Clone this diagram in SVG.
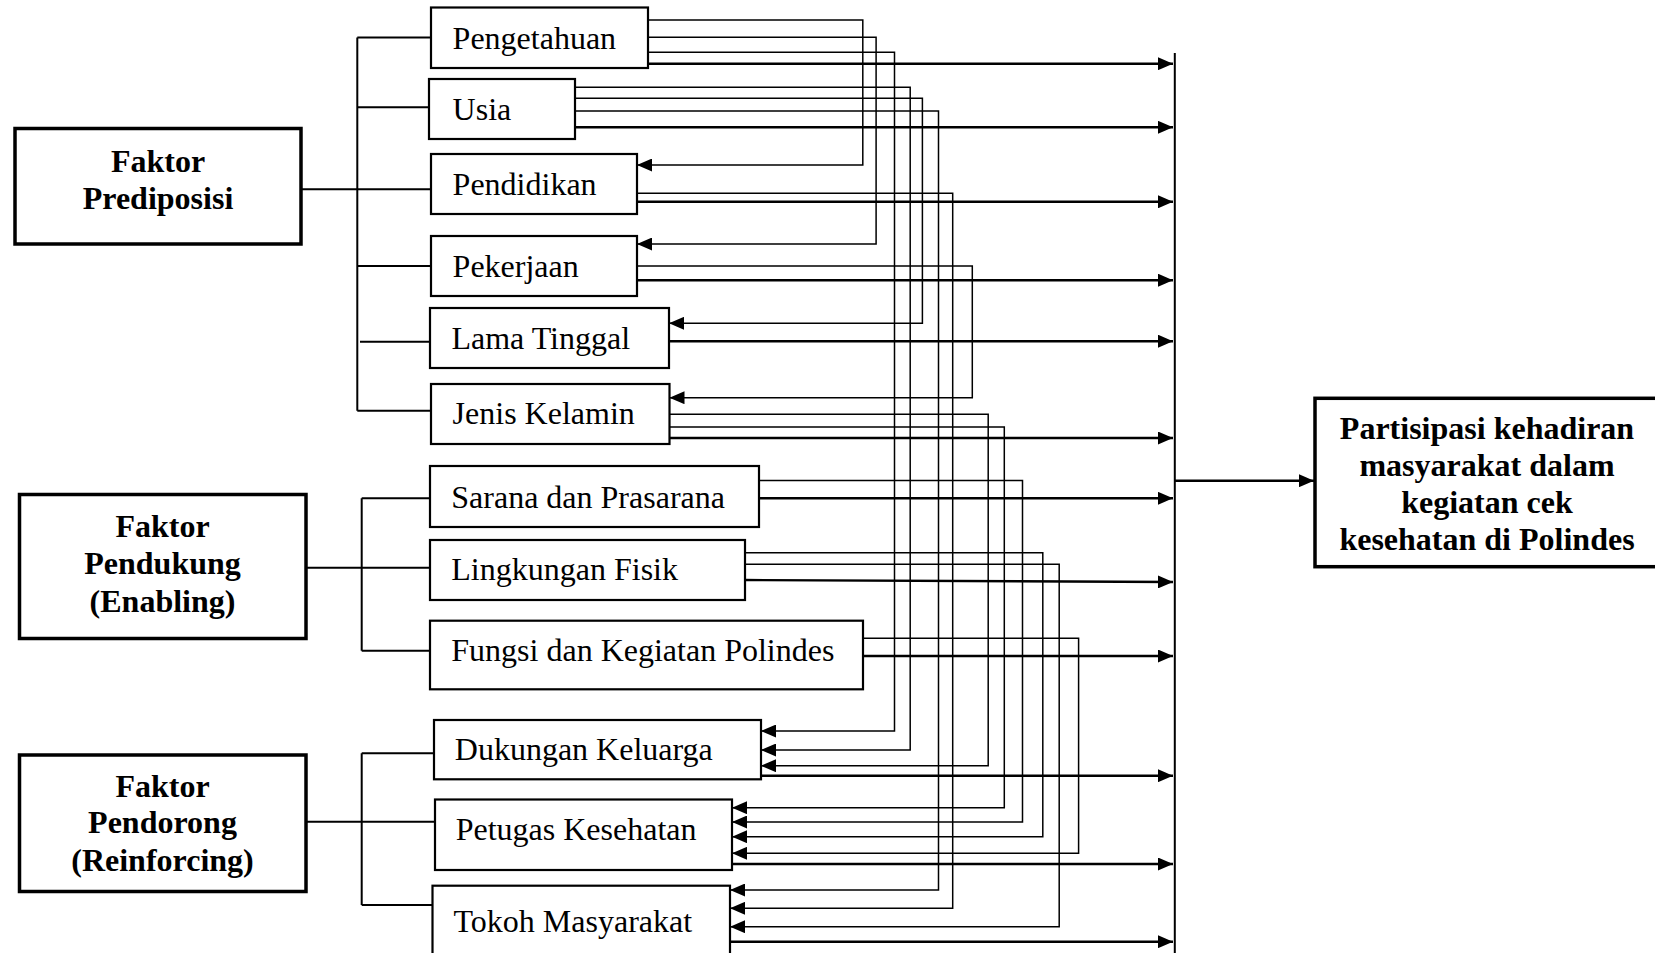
<svg xmlns="http://www.w3.org/2000/svg" width="1655" height="953" viewBox="0 0 1655 953">
<defs>
<marker id="ah" viewBox="0 0 15 13" refX="15" refY="6.5" markerWidth="15" markerHeight="13" markerUnits="userSpaceOnUse" orient="auto">
<path d="M0,0 L15,6.5 L0,13 Z" fill="#000"/>
</marker>
<style>
.box{fill:#fff;stroke:#000;stroke-width:2.2}
.fbox{fill:#fff;stroke:#000;stroke-width:3.5}
.t{font-family:"Liberation Serif","Times New Roman",serif;font-size:32px;fill:#000}
.b{font-family:"Liberation Serif","Times New Roman",serif;font-size:32px;font-weight:bold;fill:#000;text-anchor:middle}
.br{fill:none;stroke:#000;stroke-width:2}
.r{fill:none;stroke:#000;stroke-width:1.5;marker-end:url(#ah)}
.s{fill:none;stroke:#000;stroke-width:2.4;marker-end:url(#ah)}
</style>
</defs>
<rect width="1655" height="953" fill="#fff"/>

<g id="connectors">
<!-- brackets -->
<path class="br" d="M357.3,37.5 V410.7 M357.3,37.5 H431 M357.3,107.3 H429 M301,189.3 H431 M357.3,266 H431 M360,341.7 H430 M357.3,410.7 H431"/>
<path class="br" d="M361.7,498.3 V650.7 M361.7,498.3 H430 M306,567.7 H430 M361.7,650.7 H430"/>
<path class="br" d="M361.7,753.3 V905 M361.7,753.3 H434 M306,821.7 H435 M361.7,905 H432.5"/>
<!-- routed interconnections -->
<path class="r" d="M648,20 H862.8 V165 H637"/>
<path class="r" d="M648,37.3 H876.1 V244 H637"/>
<path class="r" d="M648,52.3 H894.5 V731 H761"/>
<path class="r" d="M575,87.3 H910.2 V750 H761"/>
<path class="r" d="M575,98.3 H922.4 V323.3 H669"/>
<path class="r" d="M575,111 H938.5 V890 H730"/>
<path class="r" d="M637,193.3 H952.7 V908.3 H730"/>
<path class="r" d="M637,266 H972.3 V397.7 H669.5"/>
<path class="r" d="M669.5,414.3 H988.2 V765.7 H761"/>
<path class="r" d="M669.5,427 H1004.3 V807.7 H732"/>
<path class="r" d="M759,480.5 H1022.5 V822 H732"/>
<path class="r" d="M745,552.7 H1042.8 V836.7 H732"/>
<path class="r" d="M745,564.3 H1059.2 V926.7 H730"/>
<path class="r" d="M863,638.3 H1078.6 V853.3 H732"/>
<!-- straight lines to the bar -->
<path class="s" d="M648,63.7 H1173"/>
<path class="s" d="M575,127.3 H1173"/>
<path class="s" d="M637,201.8 H1173"/>
<path class="s" d="M637,280.2 H1173"/>
<path class="s" d="M669,341.2 H1173"/>
<path class="s" d="M669.5,438 H1173"/>
<path class="s" d="M759,498.3 H1173"/>
<path class="s" d="M745,580 L1173,582"/>
<path class="s" d="M863,656 H1173"/>
<path class="s" d="M761,775.7 H1173"/>
<path class="s" d="M732,864 H1173"/>
<path class="s" d="M730,941.7 H1173"/>
<!-- collector bar and output -->
<path class="br" d="M1174.8,53 V953"/>
<path class="s" d="M1174.8,480.7 H1314"/>
</g>

<g id="faktor-prediposisi">
<rect class="fbox" x="15" y="128.5" width="286" height="115.5"/>
<text class="b" x="158" y="172">Faktor</text>
<text class="b" x="158" y="209">Prediposisi</text>
</g>
<g id="faktor-pendukung">
<rect class="fbox" x="19.5" y="494.5" width="286.5" height="144"/>
<text class="b" x="162.5" y="537.3">Faktor</text>
<text class="b" x="162.5" y="574.3">Pendukung</text>
<text class="b" x="162.5" y="611.5">(Enabling)</text>
</g>
<g id="faktor-pendorong">
<rect class="fbox" x="19.5" y="755" width="286.5" height="136.5"/>
<text class="b" x="162.5" y="796.7">Faktor</text>
<text class="b" x="162.5" y="833.3">Pendorong</text>
<text class="b" x="162.5" y="870.5">(Reinforcing)</text>
</g>

<g id="pengetahuan">
<rect class="box" x="431" y="7.5" width="217" height="60.5"/>
<text class="t" x="452.6" y="48.5">Pengetahuan</text>
</g>
<g id="usia">
<rect class="box" x="429" y="79" width="146" height="60"/>
<text class="t" x="452.6" y="119.5">Usia</text>
</g>
<g id="pendidikan">
<rect class="box" x="431" y="154" width="206" height="60"/>
<text class="t" x="452.6" y="194.5">Pendidikan</text>
</g>
<g id="pekerjaan">
<rect class="box" x="431" y="236" width="206" height="60"/>
<text class="t" x="452.6" y="276.7">Pekerjaan</text>
</g>
<g id="lama-tinggal">
<rect class="box" x="430" y="308" width="239" height="60"/>
<text class="t" x="451.4" y="348.5">Lama Tinggal</text>
</g>
<g id="jenis-kelamin">
<rect class="box" x="431" y="384" width="238.5" height="60"/>
<text class="t" x="452.6" y="424">Jenis Kelamin</text>
</g>
<g id="sarana-prasarana">
<rect class="box" x="430" y="466" width="329" height="61"/>
<text class="t" x="451.3" y="507.7">Sarana dan Prasarana</text>
</g>
<g id="lingkungan-fisik">
<rect class="box" x="430" y="540" width="315" height="60"/>
<text class="t" x="451.3" y="580">Lingkungan Fisik</text>
</g>
<g id="fungsi-kegiatan">
<rect class="box" x="430" y="620.7" width="433" height="68.6"/>
<text class="t" x="451.3" y="660.7">Fungsi dan Kegiatan Polindes</text>
</g>
<g id="dukungan-keluarga">
<rect class="box" x="434" y="720" width="327" height="59.3"/>
<text class="t" x="454.8" y="760">Dukungan Keluarga</text>
</g>
<g id="petugas-kesehatan">
<rect class="box" x="435" y="799.5" width="297" height="70.5"/>
<text class="t" x="455.7" y="840">Petugas Kesehatan</text>
</g>
<g id="tokoh-masyarakat">
<rect class="box" x="432.5" y="885.7" width="297.5" height="80"/>
<text class="t" x="453.5" y="931.7">Tokoh Masyarakat</text>
</g>

<g id="partisipasi">
<rect class="fbox" x="1315" y="398.3" width="344" height="168.4"/>
<text class="b" x="1487" y="439">Partisipasi kehadiran</text>
<text class="b" x="1487" y="476">masyarakat dalam</text>
<text class="b" x="1487" y="513">kegiatan cek</text>
<text class="b" x="1487" y="550">kesehatan di Polindes</text>
</g>
</svg>
